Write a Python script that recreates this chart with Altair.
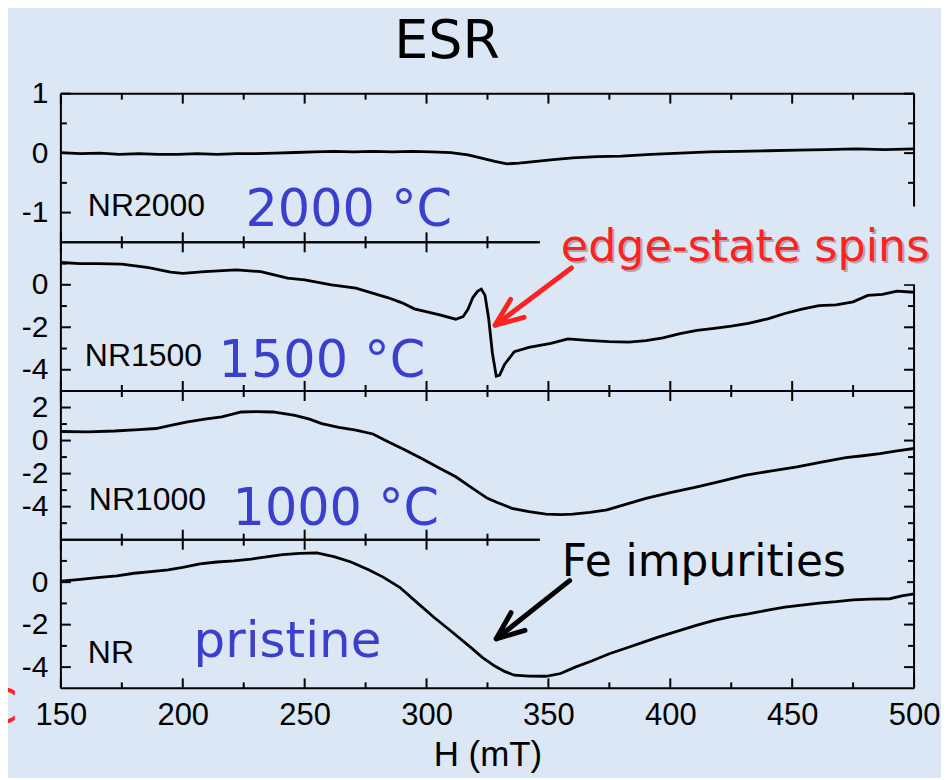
import altair as alt
import pandas as pd

TITLE = "ESR"
X_LABEL = "H (mT)"

# ---- data ----
# Panel 1: NR2000
H1 = [150, 158, 166, 174, 182, 190, 198, 206, 214, 222, 230, 238, 246, 254, 262, 270, 278, 286, 294,
      302, 310, 317, 323, 328, 333, 338, 345, 352, 360, 370, 380, 392, 404, 416, 428, 440, 452, 464,
      476, 488, 500]
V1 = [0.01, -0.01, 0.0, -0.02, -0.01, -0.02, -0.02, -0.01, -0.02, -0.01, -0.01, 0.0, 0.01, 0.02, 0.03,
      0.02, 0.03, 0.02, 0.03, 0.02, 0.01, -0.03, -0.09, -0.14, -0.18, -0.17, -0.14, -0.11, -0.08, -0.06,
      -0.05, -0.02, 0.0, 0.02, 0.03, 0.04, 0.05, 0.06, 0.07, 0.06, 0.07]

# Panel 2: NR1500
H2 = [150, 158, 165, 175, 186, 195, 200, 209, 222, 232, 243, 250, 261, 271, 284, 290, 295, 305, 312,
      315, 317, 319, 321, 322.5, 324, 325.5, 327, 328.6, 330, 332, 336, 342, 351, 358, 366, 375, 383,
      390, 397, 404, 411, 418, 425, 432, 440, 447, 454, 461, 468, 475, 481, 487, 493, 500]
V2 = [1.05, 1.0, 1.0, 0.97, 0.81, 0.6, 0.54, 0.62, 0.7, 0.62, 0.31, 0.23, 0.0, -0.16, -0.6, -0.85,
      -1.13, -1.4, -1.62, -1.5, -1.15, -0.6, -0.3, -0.2, -0.5, -1.6, -3.2, -4.3, -4.25, -3.75, -3.15,
      -2.95, -2.76, -2.55, -2.62, -2.68, -2.7, -2.63, -2.5, -2.3, -2.15, -2.05, -1.95, -1.82, -1.6,
      -1.35, -1.15, -0.98, -0.95, -0.8, -0.5, -0.45, -0.3, -0.35]

# Panel 3: NR1000
H3 = [150, 161, 172, 182, 189, 196, 202, 209, 216, 224, 230, 237, 246, 252, 257, 264, 271, 278, 284,
      291, 298, 305, 312, 318, 325, 329, 335, 342, 349, 355, 360, 367, 374, 382, 390, 400, 411, 421,
      431, 441, 452, 462, 472, 479, 486, 493, 500]
V3 = [0.55, 0.53, 0.58, 0.66, 0.73, 0.95, 1.13, 1.3, 1.43, 1.73, 1.75, 1.73, 1.53, 1.3, 1.03, 0.8,
      0.63, 0.4, -0.05, -0.55, -1.09, -1.65, -2.19, -2.8, -3.5, -3.75, -4.1, -4.3, -4.45, -4.48, -4.45,
      -4.35, -4.2, -3.85, -3.5, -3.15, -2.8, -2.45, -2.09, -1.85, -1.59, -1.3, -1.03, -0.92, -0.79,
      -0.62, -0.48]

# Panel 4: NR (pristine)
H4 = [150, 157, 166, 173, 180, 187, 194, 200, 207, 214, 221, 228, 235, 241, 248, 255, 262, 269, 276,
      282, 289, 296, 303, 310, 318, 323, 328, 332, 336, 342, 349, 355, 361, 368, 375, 382, 389, 396,
      404, 411, 418, 425, 432, 440, 447, 454, 461, 468, 475, 482, 490, 495, 500]
V4 = [0.05, 0.12, 0.23, 0.3, 0.42, 0.5, 0.58, 0.7, 0.86, 0.95, 1.0, 1.09, 1.2, 1.3, 1.36, 1.38, 1.2,
      0.95, 0.6, 0.25, -0.24, -0.95, -1.65, -2.3, -3.06, -3.55, -3.95, -4.2, -4.38, -4.42, -4.43, -4.3,
      -4.0, -3.7, -3.37, -3.1, -2.82, -2.55, -2.27, -2.02, -1.8, -1.62, -1.49, -1.32, -1.18, -1.08,
      -0.99, -0.92, -0.83, -0.8, -0.78, -0.65, -0.55]

X_MAJOR = [150, 200, 250, 300, 350, 400, 450, 500]
X_MINOR = [175, 225, 275, 325, 375, 425, 475]

Y1_MAJOR, Y1_MINOR, Y1_DOM = [-1, 0, 1], [-0.5, 0.5], [-1.5, 1]
Y2_MAJOR, Y2_MINOR, Y2_DOM = [-4, -2, 0], [-3, -1, 1], [-5, 2]
Y3_MAJOR, Y3_MINOR, Y3_DOM = [-4, -2, 0, 2], [-5, -3, -1, 1], [-6, 3]
Y4_MAJOR, Y4_MINOR, Y4_DOM = [-4, -2, 0], [-3, -1, 1], [-5, 2]

# ---- styling ----
W, HP = 855, 149
MAJ, MIN = 10, 6
BG = "#dbe7f4"
BLUE = "#3b3fce"
RED = "#ff2222"
FUN = "DejaVu Sans"
SANS = "Liberation Sans"
CHEVRON = "M -0.375 0.927 L 0 0 L 0.375 0.927"
XS = alt.Scale(domain=[150, 500], nice=False, zero=False)


def one():
    return pd.DataFrame({"k": [0]})


def rule(x, x2, y, y2, color="black", width=2):
    return alt.Chart(one()).mark_rule(color=color, strokeWidth=width).encode(
        x=alt.value(x), x2=alt.value(x2), y=alt.value(y), y2=alt.value(y2))


def rect(x, x2, y, y2, color=BG):
    return alt.Chart(one()).mark_rect(color=color, opacity=1).encode(
        x=alt.value(x), x2=alt.value(x2), y=alt.value(y), y2=alt.value(y2))


def label(txt, x, y, size, color="black", font=FUN, align="left", opacity=1.0):
    return alt.Chart(one()).mark_text(text=txt, fontSize=size, font=font, color=color,
                                      align=align, baseline="alphabetic", opacity=opacity).encode(
        x=alt.value(x), y=alt.value(y))


def arrow(x1, y1, x2, y2, angle, color):
    shaft = alt.Chart(one()).mark_rule(color=color, strokeWidth=5, strokeCap="round").encode(
        x=alt.value(x1), y=alt.value(y1), x2=alt.value(x2), y2=alt.value(y2))
    head = alt.Chart(one()).mark_point(shape=CHEVRON, size=3600, filled=False, color=color,
                                       strokeWidth=5, opacity=1, angle=angle,
                                       strokeJoin="round", strokeCap="round").encode(
        x=alt.value(x2), y=alt.value(y2))
    return [shaft, head]


def panel(hs, vs, ydom, ymaj, ymin, before=(), mid=(), after=(), bottom=False):
    ys = alt.Scale(domain=ydom, nice=False, zero=False)
    df = pd.DataFrame({"H": hs, "v": vs})
    if bottom:
        xax = alt.Axis(values=X_MAJOR, ticks=False, domain=False, grid=False, labelFont=SANS,
                       labelFontSize=31, labelColor="black", labelPadding=12, labelFlush=False,
                       labelExpr="'' + datum.value", title=X_LABEL, titleFont=SANS,
                       titleFontSize=35, titleFontWeight="normal", titleColor="black",
                       titlePadding=7, zindex=1)
    else:
        xax = None
    yax = alt.Axis(values=ymaj, ticks=False, domain=False, grid=False, labelFont=SANS,
                   labelFontSize=30, labelColor="black", labelPadding=13, labelFlush=False,
                   labelOverlap=False, labelExpr="'' + datum.value", title=None, zindex=1)

    def xt(vals, ln, top):
        d = pd.DataFrame({"H": vals})
        y0, y1 = (0, ln) if top else (HP, HP - ln)
        return alt.Chart(d).mark_rule(color="black", strokeWidth=2).encode(
            x=alt.X("H:Q", scale=XS, axis=xax), y=alt.value(y0), y2=alt.value(y1))

    def yt(vals, ln, right):
        d = pd.DataFrame({"v": vals})
        x0, x1 = (W, W - ln) if right else (0, ln)
        return alt.Chart(d).mark_rule(color="black", strokeWidth=2).encode(
            y=alt.Y("v:Q", scale=ys, axis=yax), x=alt.value(x0), x2=alt.value(x1))

    line = alt.Chart(df).mark_line(color="black", strokeWidth=2.8).encode(
        x=alt.X("H:Q", scale=XS, axis=xax), y=alt.Y("v:Q", scale=ys, axis=yax))

    frame = [rule(0, W, 0, 0), rule(0, W, HP, HP), rule(0, 0, 0, HP), rule(W, W, 0, HP)]
    ticks = [xt(X_MAJOR, MAJ, False), xt(X_MINOR, MIN, False), xt(X_MAJOR, MAJ, True),
             xt(X_MINOR, MIN, True), yt(ymaj, MAJ, False), yt(ymin, MIN, False),
             yt(ymaj, MAJ, True), yt(ymin, MIN, True)]
    layers = list(before) + frame + ticks + list(mid) + [line] + list(after)
    return alt.layer(*layers).properties(width=W, height=HP)


p1 = panel(H1, V1, Y1_DOM, Y1_MAJOR, Y1_MINOR,
           before=[rect(-77, 881, -84, 684)],
           after=[label(TITLE, 387, -36, 54, align="center"),
                  label("NR2000", 27, 123, 32, font=SANS),
                  label("2000 °C", 185, 133, 51, color=BLUE)])

p2 = panel(H2, V2, Y2_DOM, Y2_MAJOR, Y2_MINOR,
           mid=[rect(480, 881, -36, 42)],
           after=[label("NR1500", 24, 124, 32, font=SANS),
                  label("1500 °C", 158, 135, 51, color=BLUE),
                  label("edge-state spins", 503, 21, 44.5, color="#8a6a6a", opacity=0.5),
                  label("edge-state spins", 501, 19, 44.5, color=RED)]
           + arrow(511.6, 25.7, 435.2, 83, 233, RED))

p3 = panel(H3, V3, Y3_DOM, Y3_MAJOR, Y3_MINOR,
           after=[label("NR1000", 28, 119, 32, font=SANS),
                  label("1000 °C", 172, 134, 51, color=BLUE)])

p4 = panel(H4, V4, Y4_DOM, Y4_MAJOR, Y4_MINOR, bottom=True,
           mid=[rect(480, 848, -14, 50)],
           after=[label("NR", 27, 124, 32, font=SANS),
                  label("pristine", 133, 118, 50, color=BLUE),
                  label("C", -77, 184, 48, color=RED),
                  label("Fe impurities", 502, 36, 44)]
           + arrow(509.8, 41, 436.3, 99.3, 231.6, "black"))

chart = alt.vconcat(p1, p2, p3, p4, spacing=0, bounds="flush").properties(
    padding={"left": -25, "top": 0, "right": 0, "bottom": 0}
).configure(background=BG).configure_view(stroke="transparent")

chart.save("out.html", embed_options={"renderer": "svg", "actions": False})
